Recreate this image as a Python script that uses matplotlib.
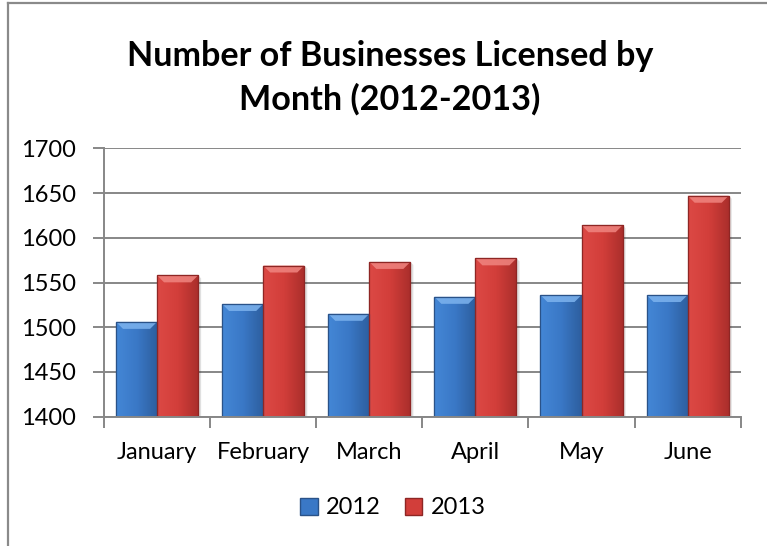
import numpy as np
import matplotlib
matplotlib.use("Agg")
import matplotlib.pyplot as plt
from matplotlib.patches import Polygon, Patch
from matplotlib.lines import Line2D
from matplotlib.colors import to_rgb

months = ["January", "February", "March", "April", "May", "June"]
series_names = ["2012", "2013"]
values_2012 = [1506, 1526, 1515, 1534, 1536, 1536]
values_2013 = [1558, 1569, 1573, 1577, 1614, 1647]
y_ticks = [1400, 1450, 1500, 1550, 1600, 1650, 1700]
title = "Number of Businesses Licensed by\nMonth (2012-2013)"

plt.rcParams['font.family'] = ['Lato', 'DejaVu Sans']

W, H = 767, 546
fig = plt.figure(figsize=(W / 100, H / 100), dpi=100)
fig.patch.set_facecolor("white")
ax = fig.add_axes([104 / W, 1 - 416.7 / H, (740.7 - 104) / W, (416.7 - 148.3) / H])

ymin, ymax = y_ticks[0], y_ticks[-1]
ax.set_ylim(ymin, ymax)
ax.set_xlim(-0.5, len(months) - 0.5)

x = np.arange(len(months))
bw = 0.387
grid_c = "#878787"

ax.set_axisbelow(True)
ax.yaxis.grid(True, color=grid_c, lw=1.4)

palette = {
    "2012": dict(face="#3A78C6", left="#4487D6", right="#2D5E9E", top="#7DB3EE", edge="#2A5288"),
    "2013": dict(face="#D23E3A", left="#DC4945", right="#A92E2B", top="#F08580", edge="#8E2624"),
}

px_x = (len(months)) / (740.7 - 104)
px_y = (ymax - ymin) / (416.7 - 148.3)

def draw_series(offset, vals, name):
    c = palette[name]
    bars = ax.bar(x + offset, vals, width=bw, bottom=0, color=c["face"],
                  edgecolor=c["edge"], linewidth=0.8, zorder=3)
    grad = np.linspace(0, 1, 64)
    l = np.array(to_rgb(c["left"])); m = np.array(to_rgb(c["face"])); r = np.array(to_rgb(c["right"]))
    cols = np.where(grad[:, None] < 0.5, l + (m - l) * (grad[:, None] / 0.5),
                    m + (r - m) * ((grad[:, None] - 0.5) / 0.5))
    img = cols[None, :, :]
    for b in bars:
        x0 = b.get_x(); w = b.get_width(); top = b.get_height()
        sh = Polygon([[x0 + w, ymin], [x0 + w + 3 * px_x, ymin], [x0 + w + 3 * px_x, top - 3 * px_y], [x0 + w, top]],
                     closed=True, facecolor="#000000", alpha=0.12, edgecolor="none", zorder=2)
        ax.add_patch(sh)
        im = ax.imshow(img, extent=(x0, x0 + w, ymin, top), aspect="auto", zorder=3.1,
                       interpolation="bilinear")
        im.set_clip_path(b)
        dx = 7 * px_x; dy = 7 * px_y
        bev = Polygon([[x0, top], [x0 + w, top], [x0 + w - dx, top - dy], [x0 + dx, top - dy]],
                      closed=True, facecolor=c["top"], edgecolor="none", alpha=0.85, zorder=3.2)
        ax.add_patch(bev)
        outline = Polygon([[x0, ymin], [x0, top], [x0 + w, top], [x0 + w, ymin]], closed=False,
                          fill=False, edgecolor=c["edge"], lw=0.9, zorder=3.3)
        ax.add_patch(outline)
    return bars

draw_series(-bw / 2, values_2012, "2012")
draw_series(bw / 2, values_2013, "2013")

for s in ["top", "right"]:
    ax.spines[s].set_visible(False)
for s in ["left", "bottom"]:
    ax.spines[s].set_color(grid_c)
    ax.spines[s].set_linewidth(1.4)
    ax.spines[s].set_zorder(4)

ax.set_yticks(y_ticks)
ax.set_yticklabels([str(v) for v in y_ticks], fontsize=17)
ax.tick_params(axis="y", length=8, width=1.4, color=grid_c, pad=12, direction="out")

ax.set_xticks(np.arange(len(months) + 1) - 0.5)
ax.set_xticklabels([])
ax.set_xticks(x, minor=True)
ax.set_xticklabels(months, minor=True, fontsize=17)
ax.tick_params(axis="x", which="major", length=8, width=1.4, color=grid_c, direction="out")
ax.tick_params(axis="x", which="minor", length=0, pad=18)

fig.text(390 / W, 1 - 78 / H, title, ha="center", va="center", fontsize=24.6,
         fontweight="bold", linespacing=1.4)

handles = [Patch(facecolor=palette[n]["face"], edgecolor=palette[n]["edge"], label=n) for n in series_names]
fig.legend(handles=handles, loc="center", bbox_to_anchor=(393 / W, 1 - 508 / H), ncol=2,
           frameon=False, fontsize=17, handlelength=0.75, handleheight=0.75,
           handletextpad=0.35, columnspacing=1.0)

fig.add_artist(Line2D([8 / W, 8 / W], [0, 1 - 3 / H], color="#8A8A8A", lw=1.6, transform=fig.transFigure))
fig.add_artist(Line2D([8 / W, 1], [1 - 3 / H, 1 - 3 / H], color="#8A8A8A", lw=1.6, transform=fig.transFigure))

fig.savefig("out.png", dpi=100)
